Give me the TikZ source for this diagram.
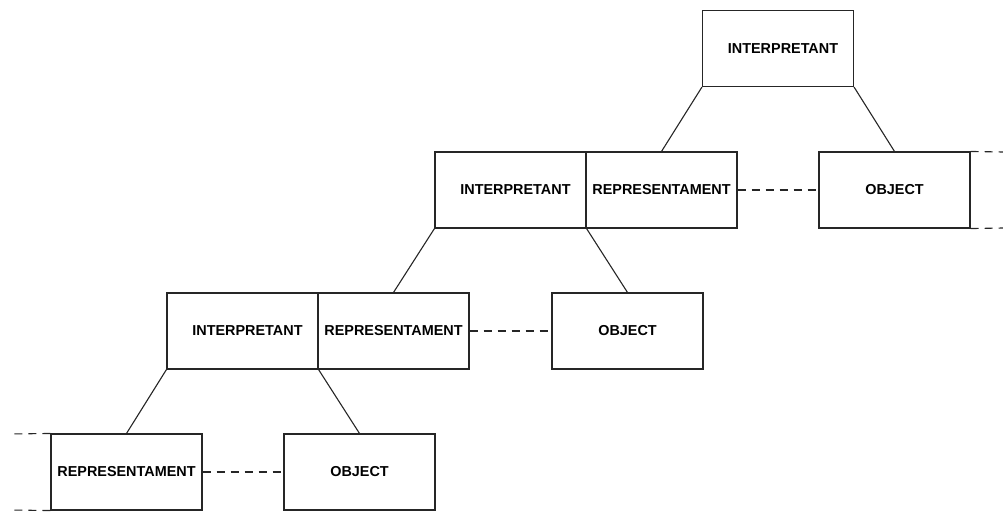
\documentclass[tikz,border=0pt]{standalone}
\usepackage{fontspec}
\setmainfont{Liberation Sans}
\usepackage{tikz}

\tikzset{
  signbox/.style={draw=black!85, line width=1.1pt, rectangle, minimum width=151pt, minimum height=76pt, inner sep=0pt, font=\fontsize{14.4}{17}\selectfont\bfseries},
  interpbox/.style={signbox, text width=151pt, align=center},
  tieline/.style={draw=black!85, line width=1.1pt},
  dashline/.style={draw=black!85, line width=1.1pt, dash pattern=on 8pt off 6pt}
}

\begin{document}
\begin{tikzpicture}[x=1pt, y=-1pt]
  \useasboundingbox (0,0) rectangle (1003,511);
  % Boxes
  \node[interpbox] (interp1) at (778,48.5) {\hspace*{10pt}INTERPRETANT};
  \node[interpbox] (interp2) at (510.5,190) {\hspace*{10pt}INTERPRETANT};
  \node[signbox] (repr2) at (661.5,190) {REPRESENTAMENT};
  \node[signbox] (obj2) at (894.5,190) {OBJECT};
  \node[interpbox] (interp3) at (242.5,331) {\hspace*{10pt}INTERPRETANT};
  \node[signbox] (repr3) at (393.5,331) {REPRESENTAMENT};
  \node[signbox] (obj3) at (627.5,331) {OBJECT};
  \node[signbox] (repr4) at (126.5,472) {REPRESENTAMENT};
  \node[signbox] (obj4) at (359.5,472) {OBJECT};
  \coordinate (r1) at (1003,152);
  \coordinate (r2) at (1003,228);
  \coordinate (l1) at (10,434);
  \coordinate (l2) at (10,510);
  % Draw the branches
  \draw[tieline] (interp1.south west) -- (repr2.north);
  \draw[tieline] (interp1.south east) -- (obj2.north);
  \draw[tieline] (interp2.south west) -- (repr3.north);
  \draw[tieline] (interp2.south east) -- (obj3.north);
  \draw[tieline] (interp3.south west) -- (repr4.north);
  \draw[tieline] (interp3.south east) -- (obj4.north);
  % Dashed links
  \draw[dashline] (repr2.east) -- (obj2.west);
  \draw[dashline] (repr3.east) -- (obj3.west);
  \draw[dashline] (repr4.east) -- (obj4.west);
  \draw[dashline] (obj2.north east) -- (r1);
  \draw[dashline] (obj2.south east) -- (r2);
  \draw[dashline] (repr4.north west) -- (l1);
  \draw[dashline] (repr4.south west) -- (l2);
\end{tikzpicture}
\end{document}
